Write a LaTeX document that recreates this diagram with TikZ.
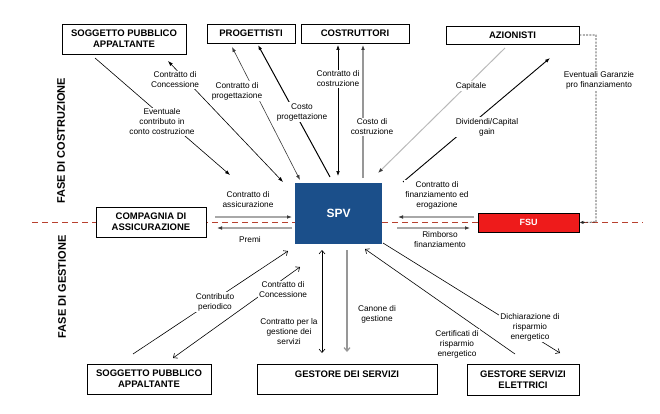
\documentclass[tikz,border=0pt]{standalone}
\usepackage{fontspec}
\setmainfont{Liberation Sans}
\usetikzlibrary{arrows, arrows.meta}
\usetikzlibrary{positioning}
\definecolor{spvblue}{HTML}{1B4F8A}
\definecolor{fsured}{HTML}{EE1B1B}
\definecolor{sepred}{HTML}{B8402E}
\definecolor{arrgray}{HTML}{A8A8A8}
\definecolor{tipgray}{HTML}{3A3A3A}

\begin{document}
\begin{tikzpicture}[x=1pt,y=-1pt,
  actor/.style={draw, line width=0.9pt, fill=white, align=center, inner sep=0pt,
    font=\fontsize{9.5}{11}\selectfont\bfseries},
  lbl/.style={fill=white, align=center, inner sep=1pt, font=\fontsize{8.3}{10}\selectfont},
  fase/.style={rotate=90, font=\fontsize{11}{13}\selectfont\bfseries},
  blkarr/.style={-{Latex[length=5pt,width=3.6pt]}, line width=0.6pt},
  blkdbl/.style={{Latex[length=5pt,width=3.6pt]}-{Latex[length=5pt,width=3.6pt]}, line width=0.6pt},
  gryarr/.style={-{Latex[length=5pt,width=3.8pt,color=tipgray]}, draw=arrgray, line width=1.2pt},
  opnarr/.style={-{Straight Barb[length=3.5pt,width=6pt]}, line width=0.6pt},
  opndbl/.style={{Straight Barb[length=3.5pt,width=6pt]}-{Straight Barb[length=3.5pt,width=6pt]}, line width=0.6pt}
]
\useasboundingbox (0,0) rectangle (660,414);

\coordinate (sepL) at (32,222);
\coordinate (sepR) at (643,222);
\draw[sepred, line width=0.9pt, dash pattern=on 6pt off 4pt] (sepL) -- (sepR);

\node[fase] (fcos) at (61,141) {FASE DI COSTRUZIONE};
\node[fase] (fges) at (62,287) {FASE DI GESTIONE};

\node[actor, minimum width=124, minimum height=30] (spa) at (124,39) {SOGGETTO PUBBLICO\\APPALTANTE};
\node[actor, minimum width=88, minimum height=19] (prog) at (251,33.5) {PROGETTISTI};
\node[actor, minimum width=108, minimum height=19] (costr) at (355,33.5) {COSTRUTTORI};
\node[actor, minimum width=133, minimum height=18] (azio) at (512.5,35) {AZIONISTI};
\node[actor, minimum width=110, minimum height=30] (comp) at (151,222) {COMPAGNIA DI\\ASSICURAZIONE};
\node[actor, draw=none, fill=spvblue, text=white, minimum width=87, minimum height=61,
  font=\fontsize{12}{14}\selectfont\bfseries] (spv) at (338.5,213.5) {SPV};
\node[actor, draw=black, fill=fsured, text=white, minimum width=101, minimum height=19,
  font=\fontsize{9}{11}\selectfont\bfseries] (fsu) at (528.5,222.5) {FSU};
\node[actor, minimum width=124, minimum height=30] (spab) at (149,379) {SOGGETTO PUBBLICO\\APPALTANTE};
\node[actor, minimum width=180, minimum height=30, text depth=10pt] (gds) at (347,379) {GESTORE DEI SERVIZI};
\node[actor, minimum width=112, minimum height=31] (gse) at (523,379.5) {GESTORE SERVIZI\\ELETTRICI};

\coordinate (ev1) at (95,58);
\coordinate (ev2) at (230,175);
\coordinate (cc1) at (168,61);
\coordinate (cc2) at (283,182);
\coordinate (cp1) at (232,47);
\coordinate (cp2) at (300,180);
\coordinate (kp1) at (330,177);
\coordinate (kp2) at (258,45);
\coordinate (ck1) at (338,45);
\coordinate (ck2) at (338,176);
\coordinate (kc1) at (363,178);
\coordinate (kc2) at (363,45);
\coordinate (cap1) at (505,48);
\coordinate (cap2) at (378,173);
\coordinate (div1) at (403,182);
\coordinate (div2) at (550,58);
\coordinate (gar1) at (596,35);
\coordinate (gar2) at (596,222);
\coordinate (as1) at (215,217);
\coordinate (as2) at (292,217);
\coordinate (pr1) at (292,228);
\coordinate (pr2) at (217,228);
\coordinate (fi1) at (474,217);
\coordinate (fi2) at (398,217);
\coordinate (ri1) at (397,228);
\coordinate (ri2) at (470,228);
\coordinate (cb1) at (133,354);
\coordinate (cb2) at (288,251);
\coordinate (cg1) at (173,358);
\coordinate (cg2) at (300,267);
\coordinate (gs1) at (322,250);
\coordinate (gs2) at (322,353);
\coordinate (cn1) at (347,250);
\coordinate (cn2) at (347,352);
\coordinate (ce1) at (515,354);
\coordinate (ce2) at (365,249);
\coordinate (di1) at (383,243);
\coordinate (di2) at (560,353);

\draw[blkarr] (ev1) -- (ev2);
\draw[blkdbl] (cc1) -- (cc2);
\draw[blkdbl, draw=tipgray] (cp1) -- (cp2);
\draw[blkarr, line width=1pt] (kp1) -- (kp2);
\draw[blkdbl] (ck1) -- (ck2);
\draw[gryarr, draw=arrgray!90!black, line width=1.5pt] (kc1) -- (kc2);
\draw[gryarr, draw=arrgray!80, line width=1pt] (cap1) -- (cap2);
\draw[blkarr, line width=0.9pt] (div1) -- (div2);
\draw[line width=0.8pt, black!85, dash pattern=on 2pt off 1.3pt, -{Latex[length=4pt,width=3.5pt]}]
  (azio.east) -- (gar1) -- (gar2) -- (fsu.east);
\draw[gryarr] (as1) -- (as2);
\draw[gryarr] (pr1) -- (pr2);
\draw[gryarr] (fi1) -- (fi2);
\draw[gryarr] (ri1) -- (ri2);
\draw[opnarr] (cb1) -- (cb2);
\draw[opndbl] (cg1) -- (cg2);
\draw[opndbl] (gs1) -- (gs2);
\draw[opnarr, draw=arrgray!90!black, line width=1.2pt] (cn1) -- (cn2);
\draw[opnarr] (ce1) -- (ce2);
\draw[opnarr] (di1) -- (di2);

\node[lbl] (lev) at (162,122) {Eventuale\\contributo in\\conto costruzione};
\node[lbl] (lcc) at (175,80) {Contratto di\\Concessione};
\node[lbl] (lcp) at (237,91) {Contratto di\\progettazione};
\node[lbl] (lkp) at (302,112) {Costo\\progettazione};
\node[lbl] (lck) at (338,79) {Contratto di\\costruzione};
\node[lbl] (lkc) at (372,127) {Costo di\\costruzione};
\node[lbl] (lcap) at (471,86) {Capitale};
\node[lbl] (ldiv) at (487,127) {Dividendi/Capital\\gain};
\node[lbl] (lgar) at (599,80) {Eventuali Garanzie\\pro finanziamento};
\node[lbl] (las) at (248,200) {Contratto di\\assicurazione};
\node[lbl] (lpr) at (250,240) {Premi};
\node[lbl] (lfi) at (437,195) {Contratto di\\finanziamento ed\\erogazione};
\node[lbl] (lri) at (440,240) {Rimborso\\finanziamento};
\node[lbl] (lcb) at (215,302) {Contributo\\periodico};
\node[lbl] (lcg) at (283,290) {Contratto di\\Concessione};
\node[lbl] (lgs) at (289,332) {Contratto per la\\gestione dei\\servizi};
\node[lbl] (lcn) at (377,314) {Canone di\\gestione};
\node[lbl] (lce) at (457,344) {Certificati di\\risparmio\\energetico};
\node[lbl] (ldi) at (530,327) {Dichiarazione di\\risparmio\\energetico};
\end{tikzpicture}
\end{document}
